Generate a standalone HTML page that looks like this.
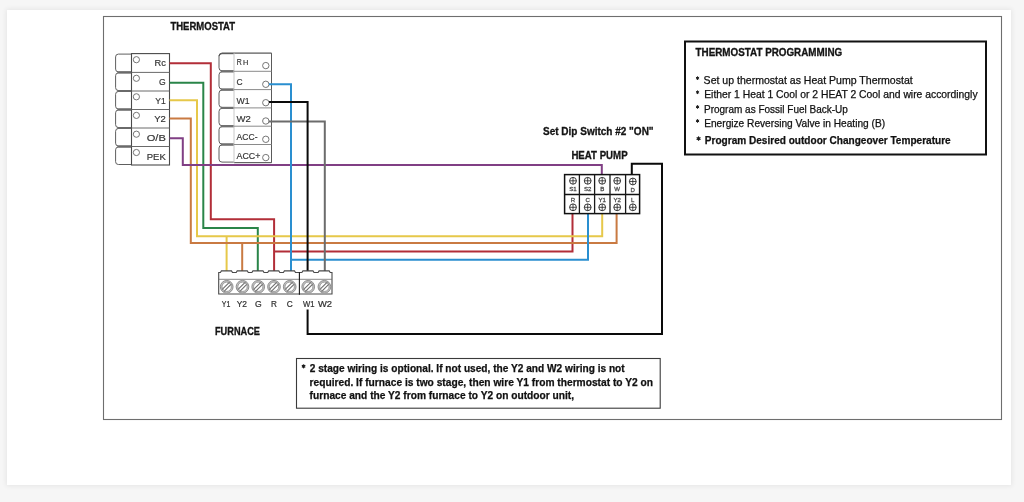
<!DOCTYPE html>
<html><head><meta charset="utf-8"><style>
html,body{margin:0;padding:0;background:#f6f6f6;width:1024px;height:502px;overflow:hidden;}
.card{position:absolute;left:7px;top:10px;width:1004px;height:475px;background:#fff;box-shadow:0 0 5px 1px rgba(0,0,0,0.07);}
svg{position:absolute;left:0;top:0;filter:blur(0.35px);}
text{font-family:"Liberation Sans",sans-serif;}
</style></head><body>
<div class="card"></div>
<svg width="1024" height="502" viewBox="0 0 1024 502">
<rect x="103.5" y="16.5" width="898" height="403" fill="none" stroke="#6e6e6e" stroke-width="1.1"/>
<text x="170.4" y="30.2" font-size="10.6" font-weight="bold" fill="#141414" text-anchor="start" textLength="64.7" lengthAdjust="spacingAndGlyphs" stroke="#141414" stroke-width="0.3">THERMOSTAT</text>
<path d="M131.5,54.1 L118.4,54.1 Q115.6,54.1 115.6,56.9 L115.6,69.1 Q115.6,71.9 118.4,71.9 L131.5,71.9" fill="#fff" stroke="#5e5e5e" stroke-width="1"/>
<path d="M131.5,72.9 L118.4,72.9 Q115.6,72.9 115.6,75.7 L115.6,87.7 Q115.6,90.5 118.4,90.5 L131.5,90.5" fill="#fff" stroke="#5e5e5e" stroke-width="1"/>
<path d="M131.5,91.5 L118.4,91.5 Q115.6,91.5 115.6,94.3 L115.6,106.2 Q115.6,109.0 118.4,109.0 L131.5,109.0" fill="#fff" stroke="#5e5e5e" stroke-width="1"/>
<path d="M131.5,110.0 L118.4,110.0 Q115.6,110.0 115.6,112.8 L115.6,124.7 Q115.6,127.5 118.4,127.5 L131.5,127.5" fill="#fff" stroke="#5e5e5e" stroke-width="1"/>
<path d="M131.5,128.5 L118.4,128.5 Q115.6,128.5 115.6,131.3 L115.6,143.2 Q115.6,146.0 118.4,146.0 L131.5,146.0" fill="#fff" stroke="#5e5e5e" stroke-width="1"/>
<path d="M131.5,147.0 L118.4,147.0 Q115.6,147.0 115.6,149.8 L115.6,161.7 Q115.6,164.5 118.4,164.5 L131.5,164.5" fill="#fff" stroke="#5e5e5e" stroke-width="1"/>
<line x1="117.4" y1="72.4" x2="131.5" y2="72.4" stroke="#6a6a6a" stroke-width="2"/>
<line x1="117.4" y1="91.0" x2="131.5" y2="91.0" stroke="#6a6a6a" stroke-width="2"/>
<line x1="117.4" y1="109.5" x2="131.5" y2="109.5" stroke="#6a6a6a" stroke-width="2"/>
<line x1="117.4" y1="128.0" x2="131.5" y2="128.0" stroke="#6a6a6a" stroke-width="2"/>
<line x1="117.4" y1="146.5" x2="131.5" y2="146.5" stroke="#6a6a6a" stroke-width="2"/>
<rect x="131.5" y="53.6" width="38" height="111.4" fill="#fff" stroke="#4a4a4a" stroke-width="1.1"/>
<circle cx="136.4" cy="59.7" r="3.1" fill="#fff" stroke="#666" stroke-width="0.9"/>
<text x="154.5" y="65.6" font-size="9.8" fill="#333" text-anchor="start" textLength="11.3" lengthAdjust="spacingAndGlyphs" stroke="#333" stroke-width="0.18">Rc</text>
<line x1="131.5" y1="72.4" x2="169.5" y2="72.4" stroke="#6a6a6a" stroke-width="1"/>
<circle cx="136.4" cy="78.3" r="3.1" fill="#fff" stroke="#666" stroke-width="0.9"/>
<text x="159.1" y="84.8" font-size="9.8" fill="#333" text-anchor="start" textLength="6.7" lengthAdjust="spacingAndGlyphs" stroke="#333" stroke-width="0.18">G</text>
<line x1="131.5" y1="91.0" x2="169.5" y2="91.0" stroke="#6a6a6a" stroke-width="1"/>
<circle cx="136.4" cy="96.8" r="3.1" fill="#fff" stroke="#666" stroke-width="0.9"/>
<text x="155.3" y="103.9" font-size="9.8" fill="#333" text-anchor="start" textLength="10.5" lengthAdjust="spacingAndGlyphs" stroke="#333" stroke-width="0.18">Y1</text>
<line x1="131.5" y1="109.5" x2="169.5" y2="109.5" stroke="#6a6a6a" stroke-width="1"/>
<circle cx="136.4" cy="115.4" r="3.1" fill="#fff" stroke="#666" stroke-width="0.9"/>
<text x="154.2" y="122.3" font-size="9.8" fill="#333" text-anchor="start" textLength="11.6" lengthAdjust="spacingAndGlyphs" stroke="#333" stroke-width="0.18">Y2</text>
<line x1="131.5" y1="128.0" x2="169.5" y2="128.0" stroke="#6a6a6a" stroke-width="1"/>
<circle cx="136.4" cy="134.2" r="3.1" fill="#fff" stroke="#666" stroke-width="0.9"/>
<text x="146.7" y="141.4" font-size="9.8" fill="#333" text-anchor="start" textLength="19.1" lengthAdjust="spacingAndGlyphs" stroke="#333" stroke-width="0.18">O/B</text>
<line x1="131.5" y1="146.5" x2="169.5" y2="146.5" stroke="#6a6a6a" stroke-width="1"/>
<circle cx="136.4" cy="152.5" r="3.1" fill="#fff" stroke="#666" stroke-width="0.9"/>
<text x="146.7" y="160.2" font-size="9.8" fill="#333" text-anchor="start" textLength="19.1" lengthAdjust="spacingAndGlyphs" stroke="#333" stroke-width="0.18">PEK</text>
<path d="M234.0,53.7 L222.0,53.7 Q219.0,53.7 219.0,56.7 L219.0,67.8 Q219.0,70.8 222.0,70.8 L234.0,70.8" fill="#fff" stroke="#5e5e5e" stroke-width="1"/>
<path d="M234.0,71.8 L222.0,71.8 Q219.0,71.8 219.0,74.8 L219.0,86.1 Q219.0,89.1 222.0,89.1 L234.0,89.1" fill="#fff" stroke="#5e5e5e" stroke-width="1"/>
<path d="M234.0,90.1 L222.0,90.1 Q219.0,90.1 219.0,93.1 L219.0,104.4 Q219.0,107.4 222.0,107.4 L234.0,107.4" fill="#fff" stroke="#5e5e5e" stroke-width="1"/>
<path d="M234.0,108.4 L222.0,108.4 Q219.0,108.4 219.0,111.4 L219.0,122.7 Q219.0,125.7 222.0,125.7 L234.0,125.7" fill="#fff" stroke="#5e5e5e" stroke-width="1"/>
<path d="M234.0,126.7 L222.0,126.7 Q219.0,126.7 219.0,129.7 L219.0,141.0 Q219.0,144.0 222.0,144.0 L234.0,144.0" fill="#fff" stroke="#5e5e5e" stroke-width="1"/>
<path d="M234.0,145.0 L222.0,145.0 Q219.0,145.0 219.0,148.0 L219.0,159.1 Q219.0,162.1 222.0,162.1 L234.0,162.1" fill="#fff" stroke="#5e5e5e" stroke-width="1"/>
<line x1="220.8" y1="71.3" x2="234.0" y2="71.3" stroke="#707070" stroke-width="2"/>
<line x1="220.8" y1="89.6" x2="234.0" y2="89.6" stroke="#707070" stroke-width="2"/>
<line x1="220.8" y1="107.9" x2="234.0" y2="107.9" stroke="#707070" stroke-width="2"/>
<line x1="220.8" y1="126.2" x2="234.0" y2="126.2" stroke="#707070" stroke-width="2"/>
<line x1="220.8" y1="144.5" x2="234.0" y2="144.5" stroke="#707070" stroke-width="2"/>
<path d="M219.0,56.2 Q219.0,53.2 222.0,53.2 L271.5,53.2 L271.5,162.6 L234,162.6" fill="none" stroke="#5a5a5a" stroke-width="1.0"/>
<rect x="234" y="53.2" width="37.5" height="109.4" fill="#fff" stroke="none"/>
<path d="M219.0,56.2 Q219.0,53.2 222.0,53.2 L271.5,53.2 L271.5,162.6 L234,162.6" fill="none" stroke="#5a5a5a" stroke-width="1.0"/>
<line x1="234" y1="53.2" x2="234" y2="162.6" stroke="#c8c8c8" stroke-width="1"/>
<circle cx="265.8" cy="65.6" r="3.2" fill="#fff" stroke="#666" stroke-width="0.9"/>
<text x="236.7" y="64.7" font-size="9.8" fill="#333" text-anchor="start" textLength="5.0" lengthAdjust="spacingAndGlyphs" stroke="#333" stroke-width="0.18">R</text>
<text x="242.9" y="64.7" font-size="7.4" fill="#333" text-anchor="start" textLength="5.3" lengthAdjust="spacingAndGlyphs" stroke="#333" stroke-width="0.18">H</text>
<line x1="234" y1="71.3" x2="271.5" y2="71.3" stroke="#8a8a8a" stroke-width="1"/>
<circle cx="265.8" cy="84.3" r="3.2" fill="#fff" stroke="#666" stroke-width="0.9"/>
<text x="236.5" y="84.5" font-size="9.8" fill="#333" text-anchor="start" textLength="6.1" lengthAdjust="spacingAndGlyphs" stroke="#333" stroke-width="0.18">C</text>
<line x1="234" y1="89.6" x2="271.5" y2="89.6" stroke="#8a8a8a" stroke-width="1"/>
<circle cx="265.8" cy="102.7" r="3.2" fill="#fff" stroke="#666" stroke-width="0.9"/>
<text x="236.5" y="104" font-size="9.8" fill="#333" text-anchor="start" textLength="13.1" lengthAdjust="spacingAndGlyphs" stroke="#333" stroke-width="0.18">W1</text>
<line x1="234" y1="107.9" x2="271.5" y2="107.9" stroke="#8a8a8a" stroke-width="1"/>
<circle cx="265.8" cy="121" r="3.2" fill="#fff" stroke="#666" stroke-width="0.9"/>
<text x="236.5" y="121.8" font-size="9.8" fill="#333" text-anchor="start" textLength="14.3" lengthAdjust="spacingAndGlyphs" stroke="#333" stroke-width="0.18">W2</text>
<line x1="234" y1="126.2" x2="271.5" y2="126.2" stroke="#8a8a8a" stroke-width="1"/>
<circle cx="265.8" cy="139.3" r="3.2" fill="#fff" stroke="#666" stroke-width="0.9"/>
<text x="236.5" y="140.3" font-size="9.8" fill="#333" text-anchor="start" textLength="21" lengthAdjust="spacingAndGlyphs" stroke="#333" stroke-width="0.18">ACC-</text>
<line x1="234" y1="144.5" x2="271.5" y2="144.5" stroke="#8a8a8a" stroke-width="1"/>
<circle cx="265.8" cy="157.6" r="3.2" fill="#fff" stroke="#666" stroke-width="0.9"/>
<text x="236.5" y="158.6" font-size="9.8" fill="#333" text-anchor="start" textLength="23.9" lengthAdjust="spacingAndGlyphs" stroke="#333" stroke-width="0.18">ACC+</text>
<path d="M169.5,63.3 L210.8,63.3 L210.8,219.3 L274.1,219.3 L274.1,272" fill="none" stroke="#b22e38" stroke-width="2" stroke-linejoin="miter"/>
<path d="M274.1,251.6 L572.5,251.6 L572.5,213.7" fill="none" stroke="#b22e38" stroke-width="2" stroke-linejoin="miter"/>
<path d="M169.5,82.8 L203.3,82.8 L203.3,228 L257.8,228 L257.8,272" fill="none" stroke="#2a8549" stroke-width="2" stroke-linejoin="miter"/>
<path d="M169.5,100.2 L197,100.2 L197,236.2 L602.2,236.2 L602.2,213.7" fill="none" stroke="#e6c84a" stroke-width="2" stroke-linejoin="miter"/>
<path d="M226.6,236.2 L226.6,272" fill="none" stroke="#e6c84a" stroke-width="2" stroke-linejoin="miter"/>
<path d="M169.5,118.5 L190.8,118.5 L190.8,243 L616.6,243 L616.6,213.7" fill="none" stroke="#c97a42" stroke-width="2" stroke-linejoin="miter"/>
<path d="M242.2,243 L242.2,272" fill="none" stroke="#c97a42" stroke-width="2" stroke-linejoin="miter"/>
<path d="M169.5,138.2 L182.8,138.2 L182.8,165 L601.8,165 L601.8,174.4" fill="none" stroke="#803f84" stroke-width="2" stroke-linejoin="miter"/>
<path d="M269,84.3 L291,84.3 L291,272" fill="none" stroke="#2a8fd0" stroke-width="2" stroke-linejoin="miter"/>
<path d="M291,259.7 L588,259.7 L588,213.7" fill="none" stroke="#2a8fd0" stroke-width="2" stroke-linejoin="miter"/>
<path d="M269,121.6 L324.8,121.6 L324.8,272" fill="none" stroke="#6c6c6c" stroke-width="2" stroke-linejoin="miter"/>
<path d="M269,102 L307.6,102 L307.6,272" fill="none" stroke="#0a0a0a" stroke-width="2" stroke-linejoin="miter"/>
<path d="M307.6,309.5 L307.6,334 L662,334 L662,163.8 L631.8,163.8 L631.8,174.4" fill="none" stroke="#0a0a0a" stroke-width="2" stroke-linejoin="miter"/>
<path d="M218.7,294 L218.7,272.5 L220.4,272.5 L221.4,270.9 L231.5,270.9 L232.5,272.5 L236.2,272.5 L237.2,270.9 L247.3,270.9 L248.3,272.5 L251.9,272.5 L252.9,270.9 L263.0,270.9 L264.0,272.5 L267.7,272.5 L268.7,270.9 L278.8,270.9 L279.8,272.5 L283.4,272.5 L284.4,270.9 L294.5,270.9 L295.5,272.5 L301.9,272.5 L302.9,270.9 L313.0,270.9 L314.0,272.5 L318.1,272.5 L319.1,270.9 L329.2,270.9 L330.2,272.5 L332,272.5 L332,294 Z" fill="#fff" stroke="#4a4a4a" stroke-width="1.1"/>
<line x1="218.7" y1="279.3" x2="332" y2="279.3" stroke="#6a6a6a" stroke-width="0.8"/>
<line x1="299.4" y1="272.3" x2="299.4" y2="294.8" stroke="#1a1a1a" stroke-width="1.1"/>
<circle cx="226.7" cy="286.8" r="6.5" fill="#fff"/>
<circle cx="226.7" cy="286.8" r="5.5" fill="none" stroke="#c2c2c2" stroke-width="1.5"/>
<line x1="221.96" y1="289.70" x2="229.60" y2="282.06" stroke="#6e6e6e" stroke-width="1.1"/>
<line x1="223.80" y1="291.54" x2="231.44" y2="283.90" stroke="#6e6e6e" stroke-width="1.1"/>
<circle cx="226.7" cy="286.8" r="6.35" fill="none" stroke="#858585" stroke-width="0.9"/>
<circle cx="226.7" cy="286.8" r="4.65" fill="none" stroke="#8a8a8a" stroke-width="0.8"/>
<circle cx="242.5" cy="286.8" r="6.5" fill="#fff"/>
<circle cx="242.5" cy="286.8" r="5.5" fill="none" stroke="#c2c2c2" stroke-width="1.5"/>
<line x1="237.76" y1="289.70" x2="245.40" y2="282.06" stroke="#6e6e6e" stroke-width="1.1"/>
<line x1="239.60" y1="291.54" x2="247.24" y2="283.90" stroke="#6e6e6e" stroke-width="1.1"/>
<circle cx="242.5" cy="286.8" r="6.35" fill="none" stroke="#858585" stroke-width="0.9"/>
<circle cx="242.5" cy="286.8" r="4.65" fill="none" stroke="#8a8a8a" stroke-width="0.8"/>
<circle cx="258.2" cy="286.8" r="6.5" fill="#fff"/>
<circle cx="258.2" cy="286.8" r="5.5" fill="none" stroke="#c2c2c2" stroke-width="1.5"/>
<line x1="253.46" y1="289.70" x2="261.10" y2="282.06" stroke="#6e6e6e" stroke-width="1.1"/>
<line x1="255.30" y1="291.54" x2="262.94" y2="283.90" stroke="#6e6e6e" stroke-width="1.1"/>
<circle cx="258.2" cy="286.8" r="6.35" fill="none" stroke="#858585" stroke-width="0.9"/>
<circle cx="258.2" cy="286.8" r="4.65" fill="none" stroke="#8a8a8a" stroke-width="0.8"/>
<circle cx="274" cy="286.8" r="6.5" fill="#fff"/>
<circle cx="274" cy="286.8" r="5.5" fill="none" stroke="#c2c2c2" stroke-width="1.5"/>
<line x1="269.26" y1="289.70" x2="276.90" y2="282.06" stroke="#6e6e6e" stroke-width="1.1"/>
<line x1="271.10" y1="291.54" x2="278.74" y2="283.90" stroke="#6e6e6e" stroke-width="1.1"/>
<circle cx="274" cy="286.8" r="6.35" fill="none" stroke="#858585" stroke-width="0.9"/>
<circle cx="274" cy="286.8" r="4.65" fill="none" stroke="#8a8a8a" stroke-width="0.8"/>
<circle cx="289.7" cy="286.8" r="6.5" fill="#fff"/>
<circle cx="289.7" cy="286.8" r="5.5" fill="none" stroke="#c2c2c2" stroke-width="1.5"/>
<line x1="284.96" y1="289.70" x2="292.60" y2="282.06" stroke="#6e6e6e" stroke-width="1.1"/>
<line x1="286.80" y1="291.54" x2="294.44" y2="283.90" stroke="#6e6e6e" stroke-width="1.1"/>
<circle cx="289.7" cy="286.8" r="6.35" fill="none" stroke="#858585" stroke-width="0.9"/>
<circle cx="289.7" cy="286.8" r="4.65" fill="none" stroke="#8a8a8a" stroke-width="0.8"/>
<circle cx="308.2" cy="286.8" r="6.5" fill="#fff"/>
<circle cx="308.2" cy="286.8" r="5.5" fill="none" stroke="#c2c2c2" stroke-width="1.5"/>
<line x1="303.46" y1="289.70" x2="311.10" y2="282.06" stroke="#6e6e6e" stroke-width="1.1"/>
<line x1="305.30" y1="291.54" x2="312.94" y2="283.90" stroke="#6e6e6e" stroke-width="1.1"/>
<circle cx="308.2" cy="286.8" r="6.35" fill="none" stroke="#858585" stroke-width="0.9"/>
<circle cx="308.2" cy="286.8" r="4.65" fill="none" stroke="#8a8a8a" stroke-width="0.8"/>
<circle cx="324.4" cy="286.8" r="6.5" fill="#fff"/>
<circle cx="324.4" cy="286.8" r="5.5" fill="none" stroke="#c2c2c2" stroke-width="1.5"/>
<line x1="319.66" y1="289.70" x2="327.30" y2="282.06" stroke="#6e6e6e" stroke-width="1.1"/>
<line x1="321.50" y1="291.54" x2="329.14" y2="283.90" stroke="#6e6e6e" stroke-width="1.1"/>
<circle cx="324.4" cy="286.8" r="6.35" fill="none" stroke="#858585" stroke-width="0.9"/>
<circle cx="324.4" cy="286.8" r="4.65" fill="none" stroke="#8a8a8a" stroke-width="0.8"/>
<text x="221.8" y="306.8" font-size="8.2" fill="#333" text-anchor="start" textLength="8.5" lengthAdjust="spacingAndGlyphs" stroke="#333" stroke-width="0.22">Y1</text>
<text x="236.7" y="306.8" font-size="8.2" fill="#333" text-anchor="start" textLength="10.3" lengthAdjust="spacingAndGlyphs" stroke="#333" stroke-width="0.22">Y2</text>
<text x="254.9" y="306.8" font-size="8.2" fill="#333" text-anchor="start" textLength="6.7" lengthAdjust="spacingAndGlyphs" stroke="#333" stroke-width="0.22">G</text>
<text x="271.0" y="306.8" font-size="8.2" fill="#333" text-anchor="start" textLength="5.9" lengthAdjust="spacingAndGlyphs" stroke="#333" stroke-width="0.22">R</text>
<text x="286.7" y="306.8" font-size="8.2" fill="#333" text-anchor="start" textLength="6.0" lengthAdjust="spacingAndGlyphs" stroke="#333" stroke-width="0.22">C</text>
<text x="303.0" y="306.8" font-size="8.2" fill="#333" text-anchor="start" textLength="11.5" lengthAdjust="spacingAndGlyphs" stroke="#333" stroke-width="0.22">W1</text>
<text x="317.9" y="306.8" font-size="8.2" fill="#333" text-anchor="start" textLength="14.1" lengthAdjust="spacingAndGlyphs" stroke="#333" stroke-width="0.22">W2</text>
<text x="215" y="335.0" font-size="10.4" font-weight="bold" fill="#141414" text-anchor="start" textLength="45" lengthAdjust="spacingAndGlyphs" stroke="#141414" stroke-width="0.3">FURNACE</text>
<text x="543" y="135.2" font-size="10.0" font-weight="bold" fill="#141414" text-anchor="start" textLength="110.6" lengthAdjust="spacingAndGlyphs" stroke="#141414" stroke-width="0.3">Set Dip Switch #2 "ON"</text>
<text x="571.4" y="158.9" font-size="10.5" font-weight="bold" fill="#141414" text-anchor="start" textLength="56.2" lengthAdjust="spacingAndGlyphs" stroke="#141414" stroke-width="0.3">HEAT PUMP</text>
<rect x="564.6" y="174.6" width="75" height="39" fill="#fff" stroke="#111" stroke-width="1.5"/>
<line x1="564.6" y1="194.4" x2="639.6" y2="194.4" stroke="#111" stroke-width="1.5"/>
<line x1="579.4" y1="174.6" x2="579.4" y2="213.6" stroke="#1a1a1a" stroke-width="1.3"/>
<line x1="594.6" y1="174.6" x2="594.6" y2="213.6" stroke="#1a1a1a" stroke-width="1.3"/>
<line x1="610" y1="174.6" x2="610" y2="213.6" stroke="#1a1a1a" stroke-width="1.3"/>
<line x1="625.6" y1="174.6" x2="625.6" y2="213.6" stroke="#1a1a1a" stroke-width="1.3"/>
<circle cx="573" cy="180.8" r="3.4" fill="#fff" stroke="#222" stroke-width="0.9"/>
<line x1="569.6" y1="180.8" x2="576.4" y2="180.8" stroke="#222" stroke-width="0.8"/>
<line x1="573" y1="177.4" x2="573" y2="184.2" stroke="#222" stroke-width="0.8"/>
<text x="573" y="191" font-size="6.1" fill="#505050" text-anchor="middle" stroke="#505050" stroke-width="0.3">S1</text>
<text x="573" y="202.2" font-size="6.1" fill="#505050" text-anchor="middle" stroke="#505050" stroke-width="0.3">R</text>
<circle cx="573" cy="207.3" r="3.4" fill="#fff" stroke="#222" stroke-width="0.9"/>
<line x1="569.6" y1="207.3" x2="576.4" y2="207.3" stroke="#222" stroke-width="0.8"/>
<line x1="573" y1="203.9" x2="573" y2="210.7" stroke="#222" stroke-width="0.8"/>
<circle cx="587.7" cy="180.8" r="3.4" fill="#fff" stroke="#222" stroke-width="0.9"/>
<line x1="584.3" y1="180.8" x2="591.1" y2="180.8" stroke="#222" stroke-width="0.8"/>
<line x1="587.7" y1="177.4" x2="587.7" y2="184.2" stroke="#222" stroke-width="0.8"/>
<text x="587.7" y="191" font-size="6.1" fill="#505050" text-anchor="middle" stroke="#505050" stroke-width="0.3">S2</text>
<text x="587.7" y="202.2" font-size="6.1" fill="#505050" text-anchor="middle" stroke="#505050" stroke-width="0.3">C</text>
<circle cx="587.7" cy="207.3" r="3.4" fill="#fff" stroke="#222" stroke-width="0.9"/>
<line x1="584.3" y1="207.3" x2="591.1" y2="207.3" stroke="#222" stroke-width="0.8"/>
<line x1="587.7" y1="203.9" x2="587.7" y2="210.7" stroke="#222" stroke-width="0.8"/>
<circle cx="602.2" cy="180.8" r="3.4" fill="#fff" stroke="#222" stroke-width="0.9"/>
<line x1="598.8" y1="180.8" x2="605.6" y2="180.8" stroke="#222" stroke-width="0.8"/>
<line x1="602.2" y1="177.4" x2="602.2" y2="184.2" stroke="#222" stroke-width="0.8"/>
<text x="602.2" y="191" font-size="6.1" fill="#505050" text-anchor="middle" stroke="#505050" stroke-width="0.3">B</text>
<text x="602.2" y="202.2" font-size="6.1" fill="#505050" text-anchor="middle" stroke="#505050" stroke-width="0.3">Y1</text>
<circle cx="602.2" cy="207.3" r="3.4" fill="#fff" stroke="#222" stroke-width="0.9"/>
<line x1="598.8" y1="207.3" x2="605.6" y2="207.3" stroke="#222" stroke-width="0.8"/>
<line x1="602.2" y1="203.9" x2="602.2" y2="210.7" stroke="#222" stroke-width="0.8"/>
<circle cx="617.2" cy="180.8" r="3.4" fill="#fff" stroke="#222" stroke-width="0.9"/>
<line x1="613.8" y1="180.8" x2="620.6" y2="180.8" stroke="#222" stroke-width="0.8"/>
<line x1="617.2" y1="177.4" x2="617.2" y2="184.2" stroke="#222" stroke-width="0.8"/>
<text x="617.2" y="191" font-size="6.1" fill="#505050" text-anchor="middle" stroke="#505050" stroke-width="0.3">W</text>
<text x="617.2" y="202.2" font-size="6.1" fill="#505050" text-anchor="middle" stroke="#505050" stroke-width="0.3">Y2</text>
<circle cx="617.2" cy="207.3" r="3.4" fill="#fff" stroke="#222" stroke-width="0.9"/>
<line x1="613.8" y1="207.3" x2="620.6" y2="207.3" stroke="#222" stroke-width="0.8"/>
<line x1="617.2" y1="203.9" x2="617.2" y2="210.7" stroke="#222" stroke-width="0.8"/>
<circle cx="632.8" cy="181.5" r="3.4" fill="#fff" stroke="#222" stroke-width="0.9"/>
<line x1="629.4" y1="181.5" x2="636.2" y2="181.5" stroke="#222" stroke-width="0.8"/>
<line x1="632.8" y1="178.1" x2="632.8" y2="184.9" stroke="#222" stroke-width="0.8"/>
<text x="632.8" y="191.8" font-size="6.1" fill="#505050" text-anchor="middle" stroke="#505050" stroke-width="0.3">D</text>
<text x="632.8" y="202.2" font-size="6.1" fill="#505050" text-anchor="middle" stroke="#505050" stroke-width="0.3">L</text>
<circle cx="632.8" cy="207.3" r="3.4" fill="#fff" stroke="#222" stroke-width="0.9"/>
<line x1="629.4" y1="207.3" x2="636.2" y2="207.3" stroke="#222" stroke-width="0.8"/>
<line x1="632.8" y1="203.9" x2="632.8" y2="210.7" stroke="#222" stroke-width="0.8"/>
<rect x="685" y="41.5" width="301" height="113" fill="none" stroke="#111" stroke-width="2"/>
<text x="695.6" y="56.2" font-size="10.3" font-weight="bold" fill="#141414" text-anchor="start" textLength="146.6" lengthAdjust="spacingAndGlyphs" stroke="#141414" stroke-width="0.3">THERMOSTAT PROGRAMMING</text>
<path d="M697.55,79.59 L697.55,76.71 M696.30,78.87 L698.80,77.43 M696.30,77.43 L698.80,78.87" stroke="#1a1a1a" stroke-width="1.0" stroke-linecap="round"/>
<text x="703.6" y="83.7" font-size="10.1" fill="#111" text-anchor="start" textLength="209.1" lengthAdjust="spacingAndGlyphs" stroke="#111" stroke-width="0.25">Set up thermostat as Heat Pump Thermostat</text>
<path d="M697.55,93.69 L697.55,90.81 M696.30,92.97 L698.80,91.53 M696.30,91.53 L698.80,92.97" stroke="#1a1a1a" stroke-width="1.0" stroke-linecap="round"/>
<text x="704.2" y="97.8" font-size="10.1" fill="#111" text-anchor="start" textLength="273.4" lengthAdjust="spacingAndGlyphs" stroke="#111" stroke-width="0.25">Either 1 Heat 1 Cool or 2 HEAT 2 Cool and wire accordingly</text>
<path d="M697.55,108.39 L697.55,105.51 M696.30,107.67 L698.80,106.23 M696.30,106.23 L698.80,107.67" stroke="#1a1a1a" stroke-width="1.0" stroke-linecap="round"/>
<text x="704.0" y="112.5" font-size="10.1" fill="#111" text-anchor="start" textLength="143.8" lengthAdjust="spacingAndGlyphs" stroke="#111" stroke-width="0.25">Program as Fossil Fuel Back-Up</text>
<path d="M697.55,122.39 L697.55,119.51 M696.30,121.67 L698.80,120.23 M696.30,120.23 L698.80,121.67" stroke="#1a1a1a" stroke-width="1.0" stroke-linecap="round"/>
<text x="704.2" y="126.5" font-size="10.1" fill="#111" text-anchor="start" textLength="180.9" lengthAdjust="spacingAndGlyphs" stroke="#111" stroke-width="0.25">Energize Reversing Valve in Heating (B)</text>
<path d="M698.56,140.22 L698.56,136.90 M697.12,139.39 L700.00,137.73 M697.12,137.73 L700.00,139.39" stroke="#1a1a1a" stroke-width="1.3" stroke-linecap="round"/>
<text x="704.8" y="144.4" font-size="10.3" font-weight="bold" fill="#111" text-anchor="start" textLength="245.9" lengthAdjust="spacingAndGlyphs" stroke="#111" stroke-width="0.25">Program Desired outdoor Changeover Temperature</text>
<rect x="296.5" y="358.5" width="363.7" height="49.7" fill="none" stroke="#3a3a3a" stroke-width="1.1"/>
<path d="M303.58,367.75 L303.58,364.81 M302.31,367.02 L304.85,365.54 M302.31,365.54 L304.85,367.02" stroke="#1a1a1a" stroke-width="1.3" stroke-linecap="round"/>
<text x="309.7" y="371.6" font-size="10.3" font-weight="bold" fill="#111" text-anchor="start" textLength="315.0" lengthAdjust="spacingAndGlyphs" stroke="#111" stroke-width="0.25">2 stage wiring is optional. If not used, the Y2 and W2 wiring is not</text>
<text x="309.6" y="385.6" font-size="10.3" font-weight="bold" fill="#111" text-anchor="start" textLength="343.4" lengthAdjust="spacingAndGlyphs" stroke="#111" stroke-width="0.25">required. If furnace is two stage, then wire Y1 from thermostat to Y2 on</text>
<text x="309.6" y="399.1" font-size="10.3" font-weight="bold" fill="#111" text-anchor="start" textLength="264.4" lengthAdjust="spacingAndGlyphs" stroke="#111" stroke-width="0.25">furnace and the Y2 from furnace to Y2 on outdoor unit,</text>
</svg>
</body></html>
